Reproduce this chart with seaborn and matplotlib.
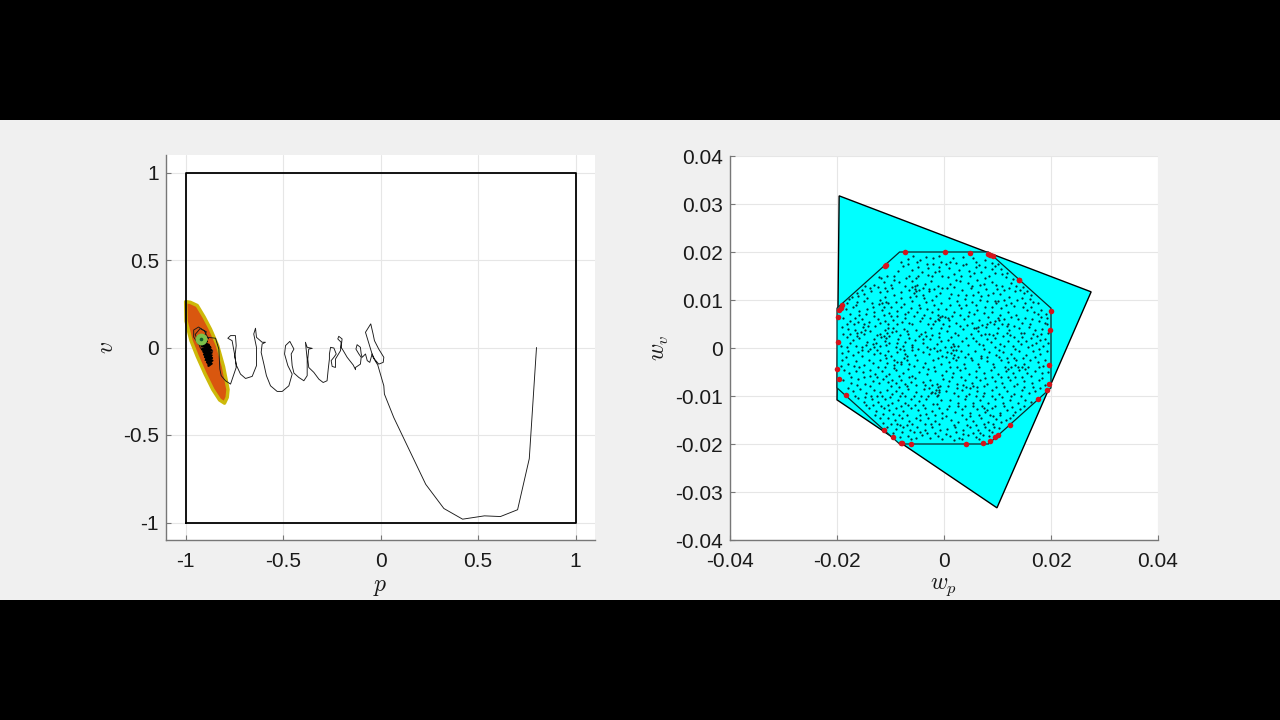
import numpy as np
import pandas as pd
import matplotlib
matplotlib.use("Agg")
import matplotlib.pyplot as plt
from matplotlib.patches import Rectangle
import seaborn as sns

# ---------- left panel data ----------
state_box_p = [-1, 1, 1, -1, -1]
state_box_v = [-1, -1, 1, 1, -1]
region_p = [-0.999, -0.975, -0.940, -0.905, -0.872, -0.835, -0.805, -0.782, -0.786, -0.800, -0.825, -0.860, -0.900, -0.940, -0.972, -0.997]
region_v = [0.262, 0.258, 0.240, 0.175, 0.105, 0.010, -0.110, -0.240, -0.285, -0.318, -0.300, -0.240, -0.150, -0.050, 0.040, 0.150]

traj_descent = [(0.80, 0.0), (0.769, -0.524), (0.763, -0.635), (0.703, -0.927), (0.615, -0.966),
                (0.533, -0.962), (0.421, -0.981), (0.325, -0.92), (0.232, -0.782), (0.068, -0.40),
                (0.02, -0.266), (0.017, -0.219)]
traj_wiggle = [(-0.014, -0.100), (-0.038, -0.056), (-0.051, -0.009), (-0.077, 0.087), (-0.050, 0.135),
               (-0.038, 0.077), (-0.031, 0.039), (-0.009, -0.009), (0.017, -0.056), (0.014, -0.085),
               (-0.009, -0.095), (-0.031, -0.066), (-0.043, -0.037), (-0.055, -0.085), (-0.068, -0.075),
               (-0.077, -0.037), (-0.094, -0.056), (-0.099, -0.037), (-0.103, 0.001), (-0.120, 0.016),
               (-0.126, -0.009), (-0.111, -0.037), (-0.099, -0.056), (-0.103, -0.095), (-0.128, -0.114),
               (-0.128, -0.127), (-0.140, -0.100), (-0.171, -0.056), (-0.191, -0.018), (-0.202, 0.001),
               (-0.197, 0.049), (-0.214, 0.064), (-0.219, 0.049), (-0.202, 0.030), (-0.205, -0.018),
               (-0.231, -0.066), (-0.231, -0.114), (-0.248, -0.108), (-0.253, -0.075), (-0.239, -0.056),
               (-0.227, -0.037), (-0.239, -0.003), (-0.256, 0.001), (-0.262, -0.037), (-0.262, -0.066),
               (-0.268, -0.123), (-0.274, -0.190), (-0.294, -0.200), (-0.316, -0.181), (-0.342, -0.142),
               (-0.368, -0.114), (-0.373, -0.066), (-0.368, -0.009), (-0.350, -0.005), (-0.376, 0.001),
               (-0.385, 0.030), (-0.376, -0.066), (-0.376, -0.161), (-0.393, -0.190), (-0.419, -0.171),
               (-0.444, -0.146), (-0.453, -0.104), (-0.458, -0.037), (-0.444, -0.009), (-0.465, 0.035),
               (-0.487, 0.011), (-0.492, -0.037), (-0.475, -0.104), (-0.453, -0.152), (-0.470, -0.219),
               (-0.504, -0.251), (-0.530, -0.251), (-0.564, -0.219), (-0.585, -0.161), (-0.598, -0.095),
               (-0.612, -0.028), (-0.607, 0.020), (-0.590, 0.030), (-0.607, 0.030), (-0.636, 0.058),
               (-0.641, 0.110), (-0.650, 0.077), (-0.636, 0.001), (-0.636, -0.104), (-0.658, -0.165),
               (-0.692, -0.177), (-0.718, -0.152), (-0.738, -0.104), (-0.747, -0.056), (-0.740, 0.011),
               (-0.744, 0.068), (-0.769, 0.068), (-0.783, 0.053), (-0.761, 0.039), (-0.752, -0.018),
               (-0.744, -0.066), (-0.740, -0.114), (-0.769, -0.209), (-0.795, -0.190), (-0.817, -0.161),
               (-0.824, -0.123), (-0.829, -0.009), (-0.846, 0.053), (-0.885, 0.058)]
traj_settle = [(-0.882, 0.049), (-0.903, 0.095), (-0.933, 0.117), (-0.958, 0.100), (-0.958, 0.060),
               (-0.935, 0.020), (-0.905, 0.060), (-0.893, 0.090), (-0.925, 0.108), (-0.950, 0.075),
               (-0.925, 0.000), (-0.895, -0.045), (-0.865, -0.095), (-0.880, -0.040), (-0.860, -0.020),
               (-0.885, 0.010), (-0.920, 0.015), (-0.885, -0.095), (-0.905, -0.040), (-0.875, -0.070),
               (-0.910, 0.025), (-0.880, -0.010), (-0.900, -0.075), (-0.870, -0.050), (-0.912, -0.005),
               (-0.888, 0.020), (-0.878, -0.085), (-0.905, -0.020), (-0.872, -0.030), (-0.905, 0.030)]
traj_core = [(-0.915, 0.030), (-0.880, 0.015), (-0.918, 0.010), (-0.872, 0.000), (-0.915, -0.010), (-0.868, -0.015),
             (-0.908, -0.025), (-0.866, -0.030), (-0.905, -0.040), (-0.866, -0.045), (-0.900, -0.055), (-0.864, -0.060),
             (-0.895, -0.070), (-0.862, -0.075), (-0.890, -0.085), (-0.866, -0.092), (-0.882, -0.105), (-0.880, -0.060),
             (-0.905, -0.010), (-0.875, 0.005), (-0.898, -0.035), (-0.870, -0.050), (-0.893, -0.018), (-0.880, -0.035),
             (-0.905, 0.020), (-0.890, 0.035), (-0.915, 0.045)]
target_p, target_v = [-0.92], [0.049]

# ---------- right panel data (values in thousandths) ----------
disturbance_wp = [-19.6, 27.5, 9.9, -20.0]
disturbance_wv = [31.7, 11.7, -33.3, -10.8]
octagon_wp = [-8.3, 8.3, 20.0, 20.0, 8.3, -8.3, -20.0, -20.0]
octagon_wv = [20.0, 20.0, 8.3, -8.3, -20.0, -20.0, -8.3, 8.3]
extreme_points = [(-7.2, 20.0), (0.1, 20.0), (4.8, 19.8), (8.2, 19.6), (8.6, 19.3), (9.2, 19.2),
                  (14.1, 14.1), (14.0, 14.2), (20.0, 7.8), (19.9, 3.8), (19.7, -3.5), (19.6, -7.5),
                  (19.2, -8.8), (17.5, -10.6), (12.3, -16.0), (10.0, -18.2), (9.5, -18.6), (8.6, -19.3),
                  (7.2, -19.7), (4.2, -20.0), (-6.2, -19.9), (-7.8, -19.8), (-8.1, -19.7), (-9.5, -18.6),
                  (-11.2, -17.1), (-18.4, -9.8), (-19.6, -6.5), (-20.0, -4.4), (-19.9, 1.3), (-19.8, 6.4),
                  (-19.6, 8.0), (-19.3, 8.4), (-19.0, 9.0), (-11.1, 17.0), (-10.8, 17.2)]

noise_ul = [(-6.8,18.6),(-5.1,17.9),(-4.5,18.4),(-3.2,17.6),(-2.1,18.8),(-1.0,16.9),(-0.6,18.0),(-7.6,17.0),
 (-6.0,16.2),(-4.2,15.9),(-3.0,15.3),(-1.7,15.8),(-0.4,14.9),(-8.6,16.0),(-9.4,15.1),(-10.6,15.0),(-11.7,14.6),
 (-12.1,14.8),(-11.3,13.7),(-10.0,13.2),(-8.5,13.8),(-7.1,14.5),(-5.9,13.9),(-5.2,14.6),(-3.6,13.4),(-2.4,13.9),
 (-1.2,13.0),(-0.3,12.6),(-13.0,13.1),(-13.6,11.8),(-12.3,12.8),(-12.0,11.6),(-10.6,11.9),(-9.3,11.0),(-8.0,11.7),
 (-6.5,12.1),(-5.4,12.3),(-5.6,11.4),(-5.2,11.8),(-4.0,11.1),(-2.8,11.8),(-1.5,10.8),(-0.7,11.4),(-14.9,11.2),
 (-16.1,10.9),(-17.8,10.2),(-15.0,9.7),(-13.4,9.4),(-12.0,9.9),(-10.5,9.3),(-9.0,9.6),(-7.4,9.2),(-6.0,9.8),
 (-4.6,9.0),(-3.3,9.5),(-1.9,8.9),(-0.5,9.4),(-18.4,8.2),(-17.1,8.6),(-15.8,7.8),(-14.3,8.2),(-13.0,7.5),(-11.6,7.9),
 (-10.2,7.3),(-8.7,7.8),(-7.3,7.1),(-6.8,7.6),(-5.1,7.4),(-3.8,6.9),(-2.3,7.6),(-1.1,6.8),(-18.8,6.3),(-17.5,5.7),
 (-16.6,6.2),(-16.0,5.5),(-15.3,6.0),(-14.0,5.4),(-12.4,6.1),(-11.0,5.6),(-9.5,5.9),(-7.9,5.5),(-7.2,6.2),(-6.6,5.2),
 (-4.4,5.7),(-3.0,5.0),(-1.6,5.6),(-0.2,5.1),(-19.0,4.3),(-17.9,3.9),(-16.7,3.7),(-16.2,3.2),(-15.2,4.4),(-13.8,3.6),
 (-12.6,2.8),(-12.0,3.0),(-11.1,3.7),(-10.5,4.2),(-9.5,4.1),(-9.0,3.6),(-7.5,4.0),(-7.0,3.6),(-6.7,3.0),(-5.2,3.8),
 (-3.6,3.3),(-2.4,4.1),(-1.0,3.2),(-18.2,2.2),(-17.0,1.6),(-15.8,2.0),(-14.4,1.3),(-13.0,1.8),(-11.0,1.5),(-10.2,1.0),
 (-8.6,1.9),(-7.2,1.2),(-6.0,0.7),(-5.5,1.7),(-4.0,1.1),(-2.7,1.8),(-1.4,0.8),(-0.5,1.5),(-19.2,0.5),(-18.2,0.2),
 (-16.5,0.5),(-15.3,0.2),(-13.0,0.3),(-12.0,0.4),(-10.9,0.6),(-9.0,0.2),(-7.6,0.4),(-6.0,0.2),(-3.2,0.3),(-1.8,0.1),
 (-16.4,8.9),(-13.9,12.6),(-4.9,15.0),(-8.0,18.0),(-2.9,16.7),(-11.2,8.5),(-6.2,8.4),(-2.8,12.3),(-14.6,7.0),(-9.9,6.6),
 (-12.9,4.6),(-8.2,2.7),(-4.7,2.4),(-18.8,3.0),(-15.0,2.9),(-11.7,2.3),(-3.1,8.1),(-0.9,16.1),(-6.4,10.6),(-9.7,12.5)]

noise_ur = [(1.7,18.7),(2.3,17.7),(3.6,18.9),(4.2,17.5),(5.4,18.7),(6.0,18.0),(6.6,17.2),(7.7,18.4),(8.9,17.7),(1.0,16.6),
 (2.8,16.2),(4.6,16.0),(5.7,15.7),(7.0,15.9),(8.9,16.4),(10.6,16.5),(10.9,15.4),(11.6,14.7),(12.5,13.6),(0.8,14.7),(2.2,14.2),
 (3.1,14.9),(4.5,13.6),(6.1,14.1),(7.6,14.6),(8.9,13.7),(9.8,13.1),(10.8,13.0),(12.1,12.5),(13.2,11.9),(14.2,12.0),(15.0,11.5),
 (0.5,12.5),(1.8,12.8),(3.4,12.0),(5.0,12.4),(6.4,11.7),(7.9,12.2),(9.2,11.5),(10.5,11.2),(12.2,10.7),(13.6,10.0),(14.6,10.4),
 (16.0,10.2),(16.6,9.6),(17.5,9.3),(0.9,10.4),(2.4,9.8),(3.9,10.3),(5.3,9.6),(6.7,9.9),(8.1,9.7),(9.6,9.8),(9.8,9.4),(10.0,9.7),
 (11.6,8.9),(13.0,8.8),(14.7,8.5),(15.5,8.0),(16.9,7.6),(18.1,8.0),(19.0,7.0),(0.3,8.2),(1.8,7.6),(3.2,8.4),(4.7,7.5),(6.2,8.0),
 (7.5,7.2),(9.0,7.6),(10.4,6.9),(11.9,7.5),(12.6,6.4),(13.5,6.9),(15.1,6.2),(16.4,6.0),(17.7,5.7),(18.9,5.3),(0.9,5.9),(2.3,5.3),
 (3.8,6.0),(5.2,5.3),(6.6,5.9),(8.0,5.0),(9.5,5.6),(10.9,5.1),(11.7,4.5),(12.0,4.9),(13.1,4.6),(14.0,4.2),(15.8,4.4),(17.1,3.8),
 (18.4,4.0),(19.2,4.9),(0.6,3.6),(2.0,3.2),(2.6,2.7),(3.5,3.9),(5.0,2.9),(6.3,3.6),(6.9,2.8),(7.6,2.9),(8.4,3.0),(9.1,2.7),(9.9,3.1),
 (11.0,2.5),(11.7,3.1),(13.0,2.2),(14.6,2.3),(16.2,2.1),(17.4,2.6),(18.8,1.8),(0.7,1.6),(1.6,0.8),(3.3,1.5),(4.4,0.7),(5.9,1.5),
 (7.3,0.6),(8.8,1.3),(10.4,0.8),(12.0,1.4),(12.9,0.5),(14.4,0.8),(15.7,0.3),(17.2,1.0),(18.5,0.4),(19.4,1.0),(1.1,18.0),(3.0,14.0),
 (6.8,13.2),(11.3,12.0),(8.4,15.0),(4.1,11.1),(1.2,9.0),(8.9,8.5),(5.6,7.0),(16.3,8.6),(13.9,6.0),(2.9,4.6),(10.1,4.2),(15.0,3.1)]

noise_ll = [(-19.0,-1.0),(-18.0,-0.6),(-17.1,-1.4),(-16.0,-0.8),(-15.3,-1.6),(-14.2,-0.7),(-13.0,-1.2),(-12.6,-0.5),(-12.0,-1.1),
 (-10.5,-0.6),(-9.9,-1.6),(-8.8,-0.9),(-7.2,-1.3),(-6.0,-0.5),(-5.5,-1.5),(-4.0,-0.8),(-2.8,-1.2),(-1.3,-0.6),(-0.4,-1.6),(-19.0,-2.6),
 (-17.9,-3.4),(-16.4,-2.7),(-15.0,-3.5),(-14.1,-2.4),(-13.3,-3.2),(-11.9,-2.5),(-10.7,-3.1),(-9.3,-2.4),(-8.0,-3.4),(-7.0,-2.6),(-6.5,-3.3),
 (-5.0,-2.5),(-3.5,-3.2),(-2.0,-2.6),(-0.6,-3.4),(-18.6,-4.6),(-17.7,-5.3),(-16.5,-4.7),(-15.2,-5.1),(-13.9,-4.5),(-12.9,-5.4),(-11.5,-4.8),
 (-10.2,-5.4),(-9.0,-4.6),(-7.7,-5.3),(-6.6,-6.0),(-6.0,-5.8),(-5.4,-6.2),(-4.6,-4.9),(-3.2,-5.5),(-1.7,-4.8),(-0.3,-5.6),(-18.8,-6.7),(-17.3,-7.2),
 (-16.0,-6.5),(-14.7,-7.5),(-13.3,-6.8),(-12.1,-7.2),(-11.4,-6.4),(-10.5,-7.0),(-9.7,-6.7),(-8.9,-7.2),(-8.0,-6.6),(-7.2,-7.6),(-6.2,-7.0),
 (-4.0,-7.0),(-2.7,-6.6),(-1.3,-7.4),(-0.2,-6.5),(-17.0,-9.0),(-15.7,-8.6),(-14.6,-9.4),(-13.0,-8.7),(-11.9,-9.2),(-10.7,-8.7),(-9.7,-9.5),
 (-9.0,-9.0),(-7.9,-9.3),(-6.7,-8.6),(-5.2,-9.2),(-3.8,-8.6),(-2.4,-9.3),(-1.0,-8.7),(-16.1,-10.5),(-15.0,-11.3),(-13.5,-10.6),(-12.3,-11.2),
 (-11.0,-10.7),(-9.7,-11.4),(-8.6,-10.9),(-7.2,-11.4),(-6.2,-10.6),(-4.7,-11.1),(-3.3,-10.6),(-2.1,-11.6),(-0.6,-10.8),(-14.0,-12.4),(-12.8,-13.1),
 (-11.3,-12.5),(-10.2,-13.0),(-8.9,-12.4),(-7.7,-13.2),(-6.1,-12.6),(-4.9,-13.0),(-3.5,-12.5),(-2.2,-13.2),(-0.9,-12.6),(-12.0,-14.6),(-10.5,-14.5),
 (-9.1,-15.1),(-7.9,-14.6),(-6.6,-15.2),(-5.2,-14.5),(-4.4,-15.1),(-3.0,-14.6),(-1.6,-15.2),(-0.4,-14.5),(-10.7,-16.5),(-9.0,-16.8),(-7.6,-16.4),
 (-6.4,-17.0),(-5.0,-16.4),(-3.6,-17.0),(-2.2,-16.4),(-0.8,-17.1),(-8.3,-18.5),(-6.8,-18.3),(-5.2,-18.8),(-4.1,-18.2),(-2.7,-18.7),(-1.2,-18.3),
 (-15.9,-3.9),(-11.0,-3.9),(-8.4,-5.9),(-3.9,-3.9),(-18.0,-8.3),(-12.6,-9.9),(-7.3,-10.0),(-2.9,-9.9),(-4.5,-13.9),(-8.2,-16.1),(-1.1,-2.0)]

noise_lr = [(0.6,-0.8),(1.9,-1.4),(3.2,-0.6),(4.4,-1.3),(5.8,-0.7),(7.0,-1.6),(8.5,-0.9),(9.8,-1.5),(11.0,-0.8),(12.6,-1.3),(14.0,-0.6),(15.3,-1.4),
 (16.6,-0.7),(18.0,-1.2),(19.2,-0.6),(0.9,-2.9),(2.3,-2.5),(3.8,-3.3),(5.2,-2.6),(6.4,-3.4),(8.0,-2.7),(9.2,-3.3),(10.6,-2.4),(12.0,-3.0),(13.4,-2.5),
 (14.9,-3.3),(16.0,-2.6),(17.5,-3.0),(18.9,-2.5),(0.3,-4.7),(1.7,-5.2),(3.0,-4.6),(4.6,-5.4),(5.9,-4.7),(7.4,-5.3),(8.7,-4.6),(10.1,-5.4),(11.5,-4.8),
 (12.9,-5.3),(14.1,-4.6),(15.6,-5.2),(17.0,-4.7),(18.3,-5.3),(19.4,-5.0),(1.0,-6.8),(2.5,-7.4),(3.9,-6.7),(5.3,-7.3),(6.7,-6.6),(8.1,-7.5),(9.5,-6.8),
 (10.9,-7.3),(12.3,-6.7),(13.6,-7.5),(15.0,-6.8),(16.4,-7.2),(17.8,-6.6),(18.9,-7.7),(0.4,-8.9),(1.9,-9.3),(3.3,-8.7),(4.7,-9.5),(6.1,-8.9),(7.5,-9.4),
 (8.9,-8.7),(10.3,-9.6),(11.7,-8.9),(13.1,-9.5),(14.5,-8.8),(15.9,-9.4),(17.1,-9.0),(1.2,-10.8),(2.6,-11.4),(4.0,-10.7),(5.4,-11.5),(6.8,-10.9),(8.2,-11.4),
 (9.6,-10.7),(11.0,-11.5),(12.4,-10.9),(13.8,-11.4),(15.2,-10.9),(16.3,-11.2),(0.5,-12.8),(2.0,-13.4),(3.4,-12.7),(4.8,-13.5),(6.2,-12.8),(7.6,-13.3),
 (9.0,-12.6),(10.4,-13.5),(11.8,-12.9),(13.2,-13.4),(14.2,-12.8),(1.3,-14.9),(2.7,-15.4),(4.1,-14.7),(5.5,-15.3),(6.9,-14.6),(8.3,-15.5),(9.7,-14.8),
 (10.6,-15.4),(11.6,-14.9),(12.3,-14.6),(0.6,-16.9),(2.1,-16.4),(3.5,-17.1),(4.9,-16.5),(6.3,-17.0),(7.7,-16.4),(8.5,-17.0),(9.3,-16.4),(10.2,-16.6),
 (1.2,-18.4),(2.8,-18.8),(4.4,-18.2),(5.9,-18.6),(7.2,-18.2),(8.5,-18.4),(1.1,-4.0),(6.9,-2.0),(11.4,-3.9),(15.7,-3.9),(17.9,-8.4),(3.1,-6.0),(9.0,-6.0),
 (13.1,-8.0),(5.9,-10.0),(2.6,-12.1),(7.1,-12.0),(11.2,-12.0),(4.3,-16.0)]

# clumps and strings of dots that break up the even spread
noise_clumps = [(-0.7,6.4),(-0.3,6.7),(-1.2,6.1),(-0.9,5.9),(0.2,6.5),(0.7,6.2),(-10.7,3.1),(-10.2,2.6),(-11.3,2.6),(-10.9,2.1),(-9.8,3.3),
 (-1.7,-9.4),(-1.2,-9.8),(-2.3,-9.1),(-1.5,-8.8),(-0.9,-9.2),(-2.8,-8.3),(-2.2,-7.8),(-1.1,-8.1),(1.6,-0.4),(1.4,0.2),(1.9,0.4),(1.3,-1.1),(1.7,-2.0),
 (5.9,4.2),(6.4,4.4),(7.1,4.7),(7.8,4.4),(8.6,5.4),(9.3,5.0),(10.2,5.9),(-8.0,-3.0),(-7.4,-2.1),(-6.9,-1.7),(-8.7,-2.9),(-9.4,-3.5),
 (-5.5,12.9),(-5.9,12.7),(-5.0,13.1),(-4.7,12.0),(-5.3,10.9),(-12.1,9.1),(-11.5,9.3),(-10.9,9.6),(-9.9,8.6),(-13.8,-0.3),(-13.3,0.8),(-12.7,1.1),
 (13.3,-3.5),(13.9,-3.9),(14.5,-4.0),(15.1,-4.3),(12.5,-4.0),(11.9,-4.4),(4.2,-8.1),(4.8,-8.3),(5.5,-7.9),(6.2,-8.1),(3.5,-7.8),
 (-16.3,2.4),(-15.6,3.4),(-17.5,2.9),(-14.8,3.8),(-14.2,4.6),(7.5,-12.5),(8.1,-12.9),(8.6,-13.9),(9.2,-14.1),(6.5,-14.0),(-3.9,1.9),(-3.4,2.4),(-4.3,2.9),
 (16.2,11.1),(15.5,11.9),(14.8,12.7),(13.5,13.0),(12.9,14.4),(11.8,15.7),(10.1,17.4),(9.5,17.0),(-14.7,13.0),(-15.4,12.1),(-16.3,11.5),(-17.2,10.7),(-18.1,9.4)]
noise_fill = [(-18.3,-1.9),(-16.9,-3.8),(-15.4,-0.4),(-13.8,-5.8),(-12.4,-3.9),(-10.9,-2.0),(-9.4,-4.1),(-8.2,-0.2),(-6.8,-4.3),(-5.7,-3.8),(-4.8,-0.3),
 (-3.0,-4.4),(-1.8,-3.9),(-0.8,-0.4),(-19.3,-3.7),(-17.4,-6.1),(-16.2,-7.8),(-15.0,-6.1),(-13.9,-8.0),(-12.6,-6.1),(-10.9,-5.9),(-9.9,-8.0),(-8.4,-8.2),
 (-6.9,-7.9),(-5.3,-7.7),(-3.6,-7.7),(-0.7,-7.9),(-16.6,-9.9),(-14.8,-10.2),(-13.7,-9.9),(-11.6,-10.1),(-10.1,-10.2),(-8.2,-10.0),(-5.6,-10.0),(-4.3,-9.9),
 (-1.4,-10.1),(-14.6,-11.8),(-13.2,-11.9),(-11.8,-12.0),(-10.4,-11.9),(-8.0,-12.0),(-6.8,-11.8),(-5.4,-11.8),(-3.9,-11.9),(-1.4,-11.7),(-12.9,-14.0),
 (-11.4,-13.8),(-9.6,-13.8),(-8.4,-13.9),(-6.9,-13.9),(-3.4,-13.8),(-1.7,-14.0),(-0.3,-13.6),(-11.4,-15.6),(-10.0,-15.8),(-8.7,-15.9),(-6.9,-16.0),
 (-5.9,-15.8),(-3.5,-15.8),(-2.4,-15.9),(-0.9,-15.9),(-9.6,-17.7),(-7.9,-17.6),(-5.7,-17.5),(-4.4,-17.6),(-3.1,-17.8),(-1.6,-17.7),(-0.4,-18.9),(-6.1,-19.0),
 (0.4,-1.9),(2.6,-1.9),(3.9,-1.9),(5.0,-2.0),(8.0,-1.8),(10.3,-1.8),(11.7,-2.0),(13.0,-2.0),(14.8,-2.0),(17.1,-1.9),(18.5,-3.7),(2.4,-4.0),(3.9,-4.1),(6.6,-4.0),
 (9.4,-4.0),(13.3,-6.0),(16.2,-5.9),(17.8,-4.0),(1.5,-6.1),(5.9,-6.0),(7.6,-6.2),(10.6,-6.1),(11.9,-6.0),(14.5,-6.1),(18.4,-6.2),(0.8,-8.0),(2.4,-8.3),(7.4,-8.0),
 (9.7,-8.1),(11.2,-8.2),(14.9,-8.1),(16.6,-8.1),(2.6,-10.0),(4.2,-10.1),(7.3,-10.1),(8.9,-10.0),(10.8,-10.2),(12.6,-10.1),(14.3,-10.0),(1.0,-12.1),(3.9,-12.1),
 (5.5,-12.0),(9.6,-12.0),(12.7,-12.2),(15.0,-12.0),(0.3,-14.1),(3.4,-14.0),(4.8,-14.1),(10.4,-14.0),(12.9,-13.9),(1.8,-16.0),(6.0,-16.0),(7.5,-15.8),(9.2,-15.8),
 (0.3,-18.0),(2.2,-17.6),(3.6,-18.0),(5.4,-17.7),(6.8,-17.7),(8.9,-17.6),(1.9,-19.1),(3.4,-19.0),(6.6,-19.0),
 (-18.1,5.0),(-16.9,5.0),(-14.9,5.0),(-12.0,5.2),(-10.4,5.0),(-8.7,4.9),(-5.9,5.0),(-2.1,5.0),(-0.6,4.2),(-17.5,7.1),(-15.9,6.9),(-13.1,6.7),(-11.2,6.8),(-8.8,6.6),
 (-5.6,6.6),(-4.1,6.3),(-2.6,6.2),(-16.3,9.6),(-13.2,8.6),(-8.0,8.5),(-4.5,8.3),(-1.2,8.2),(-14.4,10.4),(-11.0,10.6),(-8.1,10.4),(-3.7,10.4),(-2.2,10.0),(-11.0,12.4),
 (-7.3,12.9),(-4.0,12.5),(-1.9,12.2),(-9.4,14.2),(-6.5,15.1),(-2.2,15.0),(-6.8,17.4),(-4.9,16.9),(-2.1,17.4),(-5.8,19.1),(-3.4,19.0),(-1.0,19.1),(-17.6,1.0),(-14.6,0.6),
 (-8.7,1.0),(-6.6,2.1),(-2.3,2.7),(-0.9,2.2),
 (0.4,17.4),(1.9,15.5),(3.5,17.2),(4.9,15.0),(5.9,16.8),(7.6,16.9),(9.6,15.6),(1.4,11.2),(2.7,11.0),(5.5,11.0),(7.0,10.8),(8.3,11.0),(11.2,10.0),(12.6,9.4),(15.2,9.3),
 (1.2,13.4),(5.3,13.0),(7.5,13.4),(9.9,12.2),(2.8,8.9),(4.1,9.0),(5.9,8.9),(7.6,8.5),(10.7,8.3),(17.5,7.0),(19.2,6.2),(1.5,6.6),(3.0,6.8),(4.4,6.6),(8.3,6.5),(10.0,6.3),
 (11.2,6.0),(14.6,5.2),(16.1,5.0),(18.1,6.4),(1.0,4.6),(4.3,4.8),(5.6,4.2),(12.1,3.8),(14.3,3.2),(16.6,3.0),(18.2,2.9),(19.4,3.1),(1.4,2.2),(4.2,2.1),(5.5,2.0),(8.0,1.9),
 (9.5,2.0),(12.4,2.7),(13.8,1.5),(15.3,1.4),(17.9,1.6),(0.2,0.3),(2.6,0.5),(6.6,0.9),(9.6,0.3),(11.2,0.4),(16.4,0.6),(2.3,-0.4),(-2.6,-0.3),(-7.5,-0.5),(-11.1,-1.4),
 (7.4,-0.3),(10.3,-0.4),(13.3,-0.2),(17.8,-0.3)]

# ---------- axis ticks ----------
left_ticks_x = [-1, -0.5, 0, 0.5, 1]
left_ticks_y = [-1, -0.5, 0, 0.5, 1]
right_ticks = [-0.04, -0.02, 0, 0.02, 0.04]
right_ticks_y = [-0.04, -0.03, -0.02, -0.01, 0, 0.01, 0.02, 0.03, 0.04]

sns.set_theme(style="whitegrid")
plt.rcParams["font.family"] = ["Liberation Sans", "DejaVu Sans"]
plt.rcParams["mathtext.fontset"] = "cm"

fig = plt.figure(figsize=(12.8, 7.2), dpi=100, facecolor="black")
fig.add_artist(Rectangle((0, 120 / 720), 1, 480 / 720, transform=fig.transFigure,
                         facecolor="#f0f0f0", edgecolor="none", zorder=-10))

ax1 = fig.add_axes([166 / 1280, 180 / 720, 429 / 1280, 385 / 720])
ax2 = fig.add_axes([730 / 1280, 180 / 720, 428 / 1280, 384 / 720])


def style(ax, xt, xl, yt, yl, xlabel, ylabel, ylab_x):
    ax.set_facecolor("white")
    ax.set_xticks(xt, xl)
    ax.set_yticks(yt, yl)
    ax.grid(True, color="#e6e6e6", lw=0.8)
    ax.set_axisbelow(True)
    for side in ("top", "right"):
        ax.spines[side].set_visible(False)
    for side in ("left", "bottom"):
        ax.spines[side].set_color("#777777")
        ax.spines[side].set_linewidth(1.0)
    ax.tick_params(direction="in", length=3.5, width=0.8, color="#777777",
                   labelsize=15, labelcolor="#1a1a1a", left=True, bottom=True)
    ax.tick_params(axis="x", pad=8.5)
    ax.tick_params(axis="y", pad=5)
    ax.set_xlabel(xlabel, fontsize=17, color="#1a1a1a", va="center")
    ax.set_ylabel(ylabel, fontsize=17, color="#1a1a1a", va="center")
    ax.xaxis.set_label_coords(0.5, -0.122)
    ax.yaxis.set_label_coords(ylab_x, 0.5)


# left panel
ax1.set_xlim(-1.1, 1.1)
ax1.set_ylim(-1.1, 1.1)
ax1.fill(region_p, region_v, facecolor="#d9570f", edgecolor="#cdb90a", lw=2.5, joinstyle="round", zorder=2)
ax1.plot(state_box_p, state_box_v, color="black", lw=1.3, zorder=3)
traj = pd.DataFrame(traj_descent + traj_wiggle + traj_settle, columns=["p", "v"])
sns.lineplot(data=traj, x="p", y="v", sort=False, estimator=None, color="#1a1a1a", lw=0.65, ax=ax1, zorder=4)
core = pd.DataFrame(traj_core, columns=["p", "v"])
sns.lineplot(data=core, x="p", y="v", sort=False, estimator=None, color="black", lw=1.6, ax=ax1, zorder=4)
ax1.plot(target_p, target_v, "o", ms=8.5, mfc="#7cc04a", mec="none", zorder=5)
ax1.plot(target_p, target_v, "o", ms=2.6, mfc="#0c5a2a", mec="none", zorder=6)
style(ax1, left_ticks_x, ["-1", "-0.5", "0", "0.5", "1"], left_ticks_y, ["-1", "-0.5", "0", "0.5", "1"],
      r"$p$", r"$v$", -0.138)

# right panel
ax2.set_xlim(-0.04, 0.04)
ax2.set_ylim(-0.04, 0.04)
ax2.fill(np.array(disturbance_wp) / 1000, np.array(disturbance_wv) / 1000, facecolor="#00ffff",
         edgecolor="black", lw=1.0, zorder=2)
ax2.fill(np.array(octagon_wp) / 1000, np.array(octagon_wv) / 1000, facecolor="#00ffff",
         edgecolor="#0a2a2a", lw=0.9, zorder=3)
noise = pd.DataFrame(noise_ul + noise_ur + noise_ll + noise_lr + noise_clumps + noise_fill,
                     columns=["wp", "wv"]) / 1000
sns.scatterplot(data=noise, x="wp", y="wv", s=2.6, color="#0b3036", linewidth=0, ax=ax2, zorder=4)
extreme = pd.DataFrame(extreme_points, columns=["wp", "wv"]) / 1000
sns.scatterplot(data=extreme, x="wp", y="wv", s=16, color="#d4141c", linewidth=0, ax=ax2, zorder=5)
style(ax2, right_ticks, ["-0.04", "-0.02", "0", "0.02", "0.04"], right_ticks_y,
      ["-0.04", "-0.03", "-0.02", "-0.01", "0", "0.01", "0.02", "0.03", "0.04"],
      r"$w_p$", r"$w_v$", -0.164)

fig.savefig("out.png", dpi=100)
